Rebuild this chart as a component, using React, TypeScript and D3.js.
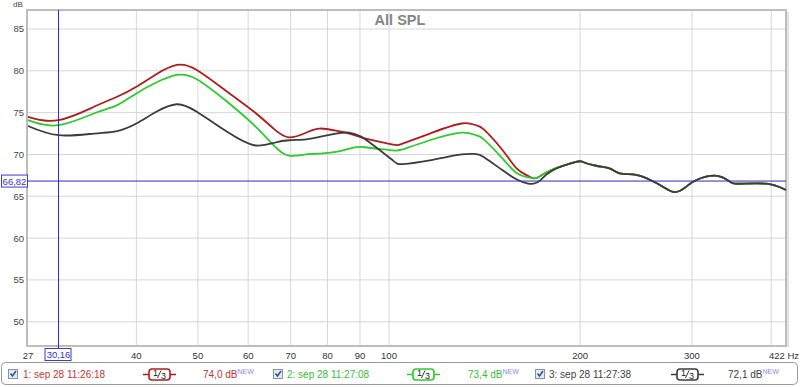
import React from 'react';
import * as d3 from 'd3';

// ── Data ──────────────────────────────────────────────────────────────
const freqHead = [27, 30.16, 34.3, 37.3, 40, 43, 46.3, 49.8, 55.6, 61.3, 66, 69.6, 74, 77.7, 82.5, 86.6, 90, 93, 101, 105, 116, 130, 137, 141, 151, 159, 165, 169, 173, 181, 197];
const redHead = [74.5, 74.1, 75.7, 76.9, 78.1, 79.6, 80.7, 80.1, 77.5, 75.1, 73.0, 72.05, 72.6, 73.1, 72.85, 72.5, 72.1, 71.8, 71.2, 71.3, 72.5, 73.7, 73.5, 73.0, 70.5, 68.3, 67.5, 67.15, 67.4, 68.2, 69.1];
const greenHead = [74.1, 73.5, 74.9, 75.9, 77.3, 78.6, 79.5, 79.0, 76.3, 73.5, 71.0, 69.85, 70.0, 70.1, 70.3, 70.7, 70.9, 70.8, 70.5, 70.6, 71.7, 72.6, 72.3, 71.8, 69.5, 67.75, 67.3, 67.15, 67.4, 68.2, 69.1];
const blackHead = [73.4, 72.3, 72.5, 72.8, 73.7, 75.1, 76.0, 75.1, 72.7, 71.1, 71.4, 71.7, 71.8, 72.1, 72.5, 72.6, 72.2, 71.5, 69.4, 68.85, 69.3, 70.0, 70.05, 69.7, 68.1, 67.0, 66.55, 66.5, 66.9, 68.1, 69.1];

// above ~200 Hz the three measurements coincide
const freqTail = [202, 212, 223, 231, 245, 258, 270, 282, 294, 305, 328, 344, 357, 393, 422];
const dbTail = [69.1, 68.65, 68.3, 67.75, 67.55, 66.95, 66.15, 65.5, 66.15, 66.95, 67.45, 66.75, 66.5, 66.5, 65.75];

const xTickLabels = [27, 40, 50, 60, 70, 80, 90, 100, 200, 300];
const xGrid = [40, 50, 60, 70, 80, 90, 100, 200, 300, 400];
const yTicks = [50, 55, 60, 65, 70, 75, 80, 85];

const cursorFreq = 30.16;
const cursorDb = 66.82;

const seriesNames = ['1: sep 28 11:26:18', '2: sep 28 11:27:08', '3: sep 28 11:27:38'];
const seriesLevels = ['74,0 dB', '73,4 dB', '72,1 dB'];
const seriesColors = ['#b31b1b', '#2ccc2c', '#3c3c3c'];
const textColors = ['#c03434', '#34c034', '#404040'];

const W = 800;
const H = 387;
const plot = { left: 28, right: 786, top: 10, bottom: 346 };
const FONT = '"Liberation Sans", Arial, sans-serif';

const x = d3.scaleLog().domain([27, 422]).range([plot.left, plot.right]);
const y = d3.scaleLinear().domain([47.1, 87.27]).range([plot.bottom, plot.top]);

const line = d3
    .line<[number, number]>()
    .x((d) => x(d[0]))
    .y((d) => y(d[1]))
    .curve(d3.curveNatural);

const build = (head: number[]) =>
    [...freqHead.map((f, i) => [f, head[i]] as [number, number]), ...freqTail.map((f, i) => [f, dbTail[i]] as [number, number])];

const series = [build(redHead), build(greenHead), build(blackHead)];

// legend layout (x of checkbox, name, icon, level text)
const legendSlots = [
    { cb: 8, name: 23, icon: 149, level: 203 },
    { cb: 273, name: 287, icon: 413, level: 468 },
    { cb: 535, name: 549, icon: 677, level: 728 },
];

const CheckBox = ({ x0 }: { x0: number }) => (
    <g>
        <rect x={x0 + 0.5} y={369.5} width={9} height={9} fill="#e4e8ef" stroke="#8a93a3" />
        <path d={`M${x0 + 2.5},${373.5} L${x0 + 4.5},${376} L${x0 + 8},${371}`} fill="none" stroke="#2e4f9c" strokeWidth={1.5} />
    </g>
);

const ThirdIcon = ({ x0, color }: { x0: number; color: string }) => (
    <g>
        <line x1={x0 - 6} x2={x0} y1={374.5} y2={374.5} stroke={color} strokeWidth={1.5} />
        <line x1={x0 + 21} x2={x0 + 27} y1={374.5} y2={374.5} stroke={color} strokeWidth={1.5} />
        <rect x={x0} y={369} width={21} height={11} rx={3} fill="#fff" stroke={color} strokeWidth={1.6} />
        <text x={x0 + 4} y={376} fontSize={9} fill="#222" fontFamily={FONT}>1</text>
        <line x1={x0 + 8.5} x2={x0 + 12} y1={378} y2={370.5} stroke="#222" strokeWidth={0.9} />
        <text x={x0 + 12} y={379} fontSize={9} fill="#222" fontFamily={FONT}>3</text>
    </g>
);

export default function App() {
    const cx = x(cursorFreq);
    const cy = y(cursorDb);
    return (
        <svg width={W} height={H} style={{ position: 'absolute', left: 0, top: 0, background: '#fff' }} fontFamily={FONT}>
            {/* grid */}
            {xGrid.map((f) => (
                <line key={'gx' + f} x1={x(f)} x2={x(f)} y1={plot.top} y2={plot.bottom} stroke="#d6d6d6" />
            ))}
            {yTicks.map((v) => (
                <line key={'gy' + v} x1={plot.left} x2={plot.right} y1={y(v)} y2={y(v)} stroke="#d6d6d6" />
            ))}

            {/* frame */}
            <rect x={plot.left - 1} y={plot.top} width={plot.right - plot.left + 1} height={plot.bottom - plot.top} fill="none" stroke="#bdbdbd" strokeWidth={2} />
            <line x1={plot.right + 2} x2={plot.right + 2} y1={plot.top + 2} y2={plot.bottom + 1} stroke="#e2e2e2" strokeWidth={2} />

            {/* title */}
            <text x={400} y={25} textAnchor="middle" fontSize={14.5} fontWeight="bold" fill="#858585">All SPL</text>
            <text x={13} y={7} fontSize={8} fill="#444">dB</text>

            {/* y labels */}
            {yTicks.map((v) => (
                <text key={'ly' + v} x={24} y={y(v) + 3.5} textAnchor="end" fontSize={9.5} fill="#444">{v}</text>
            ))}
            {/* x labels */}
            {xTickLabels.map((f) => (
                <text key={'lx' + f} x={x(f)} y={359} textAnchor="middle" fontSize={9.5} fill="#333">{f}</text>
            ))}
            <text x={799} y={359} textAnchor="end" fontSize={9.5} fill="#333">422 Hz</text>

            {/* curves */}
            {series.map((s, i) => (
                <path key={'s' + i} d={line(s) || ''} fill="none" stroke={seriesColors[i]} strokeWidth={1.8} strokeLinejoin="round" />
            ))}

            {/* cursor */}
            <line x1={cx} x2={cx} y1={plot.top} y2={349} stroke="#2a2ac8" strokeWidth={1} />
            <line x1={plot.left} x2={plot.right} y1={cy} y2={cy} stroke="#2a2ac8" strokeWidth={1} />
            <rect x={cx - 13.5} y={348.5} width={26} height={12} fill="#fff" stroke="#3a3ad0" />
            <text x={cx} y={358} textAnchor="middle" fontSize={9.5} fill="#3434c8">30,16</text>
            <rect x={1.5} y={cy - 6} width={26} height={12} fill="#fff" stroke="#3a3ad0" />
            <text x={14.5} y={cy + 3.5} textAnchor="middle" fontSize={9.5} fill="#3434c8">66,82</text>

            {/* legend */}
            <rect x={1.5} y={362.5} width={796} height={22} rx={4} fill="#fff" stroke="#9a9a9a" />
            {legendSlots.map((p, i) => (
                <g key={'lg' + i}>
                    <CheckBox x0={p.cb} />
                    <text x={p.name} y={378} fontSize={10} fill={textColors[i]}>{seriesNames[i]}</text>
                    <ThirdIcon x0={p.icon} color={seriesColors[i]} />
                    <text x={p.level} y={378} fontSize={10} fill={textColors[i]}>
                        {seriesLevels[i]}
                        <tspan fontSize={7} dy={-4.5} fill="#8a8af0">NEW</tspan>
                    </text>
                </g>
            ))}
        </svg>
    );
}
